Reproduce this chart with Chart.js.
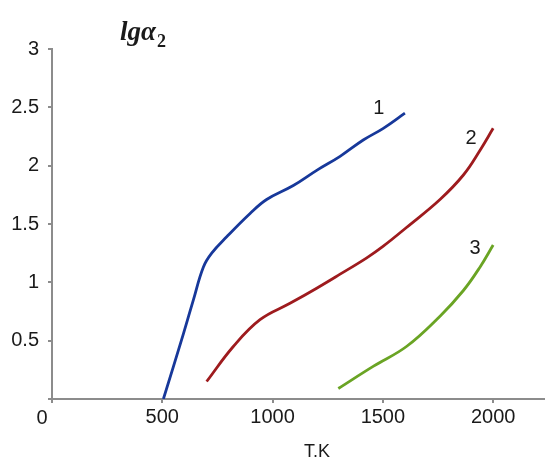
<!DOCTYPE html>
<html>
<head>
<meta charset="utf-8">
<script src="https://cdn.jsdelivr.net/npm/chart.js@4.4.1/dist/chart.umd.min.js"></script>
<style>
  html, body { margin: 0; padding: 0; background: #fff; }
  canvas { display: block; }
</style>
</head>
<body>
<canvas id="chart" width="545" height="459"></canvas>
<script>
// ================= DATA =================
const xTicks = [0, 500, 1000, 1500, 2000];
const yTicks = [0, 0.5, 1, 1.5, 2, 2.5, 3];

// curve 1 (blue)
const t1 = [505, 596, 641, 686, 724, 792, 898, 973, 1094, 1200, 1306, 1411, 1502, 1600];
const lg1 = [0.0, 0.56, 0.85, 1.13, 1.25, 1.39, 1.59, 1.71, 1.83, 1.96, 2.08, 2.22, 2.32, 2.45];

// curve 2 (red)
const t2 = [701, 822, 943, 1079, 1200, 1306, 1427, 1502, 1607, 1759, 1865, 1940, 2000];
const lg2 = [0.15, 0.45, 0.68, 0.82, 0.95, 1.07, 1.21, 1.31, 1.47, 1.71, 1.92, 2.13, 2.32];

// curve 3 (green)
const t3 = [1298, 1456, 1607, 1759, 1865, 1940, 2000];
const lg3 = [0.09, 0.28, 0.45, 0.71, 0.93, 1.13, 1.32];

const curveNames = ["1", "2", "3"];
const curveLabelT = [1482, 1900, 1918];
const curveLabelY = [2.49, 2.23, 1.29];

const axisColor = "#8c8c8c";
const textColor = "#1a1a1a";
const tickFont = { family: "'Liberation Sans', Arial, sans-serif", size: 20 };

function pts(xs, ys) {
  return xs.map((x, i) => ({ x: x, y: ys[i] }));
}

// ================= EXTRA TEXT =================
const textPlugin = {
  id: "extraText",
  afterDraw(chart) {
    const c = chart.ctx;
    const xs = chart.scales.x, ys = chart.scales.y;
    c.save();
    c.fillStyle = textColor;

    // axis title
    c.font = "bold italic 27px 'Liberation Serif', serif";
    c.textAlign = "left";
    c.textBaseline = "alphabetic";
    c.fillText("lgα", 120, 40);
    const w = c.measureText("lgα").width;
    c.font = "bold 18px 'Liberation Serif', serif";
    c.fillText("2", 120 + w + 1, 47);

    // origin label
    c.font = "20px 'Liberation Sans', Arial, sans-serif";
    c.textAlign = "center";
    c.textBaseline = "top";
    c.fillText("0", 42, 408);

    // x axis title
    c.font = "18px 'Liberation Sans', Arial, sans-serif";
    c.textBaseline = "alphabetic";
    c.fillText("T.K", 317, 457);

    // curve numbers
    c.font = "20px 'Liberation Sans', Arial, sans-serif";
    c.textBaseline = "middle";
    curveNames.forEach((n, i) => {
      c.fillText(n, xs.getPixelForValue(curveLabelT[i]), ys.getPixelForValue(curveLabelY[i]));
    });
    c.restore();
  }
};

// ================= CHART =================
const lineStyle = { borderWidth: 2.8, pointRadius: 0, fill: false, tension: 0.4 };

new Chart(document.getElementById("chart"), {
  type: "line",
  data: {
    datasets: [
      Object.assign({ data: pts(t1, lg1), borderColor: "#17389a" }, lineStyle),
      Object.assign({ data: pts(t2, lg2), borderColor: "#9e1b1e" }, lineStyle),
      Object.assign({ data: pts(t3, lg3), borderColor: "#6aa424" }, lineStyle)
    ]
  },
  options: {
    responsive: false,
    animation: false,
    layout: { padding: { top: 49, left: 0, right: 0, bottom: 0 } },
    plugins: { legend: { display: false }, tooltip: { enabled: false } },
    scales: {
      x: {
        type: "linear",
        min: 0,
        max: 2235,
        afterBuildTicks: s => { s.ticks = xTicks.map(v => ({ value: v })); },
        afterFit: s => { s.height = 60; },
        grid: { drawOnChartArea: false, drawTicks: true, tickLength: 4, color: axisColor, lineWidth: 2 },
        border: { display: true, color: axisColor, width: 2 },
        ticks: {
          font: tickFont,
          color: textColor,
          padding: 2,
          maxRotation: 0,
          callback: v => (v === 0 ? "" : String(v))
        }
      },
      y: {
        min: 0,
        max: 3,
        afterBuildTicks: s => { s.ticks = yTicks.map(v => ({ value: v })); },
        afterFit: s => { s.width = 52; },
        grid: { drawOnChartArea: false, drawTicks: true, tickLength: 4, color: axisColor, lineWidth: 2 },
        border: { display: true, color: axisColor, width: 2 },
        ticks: {
          font: tickFont,
          color: textColor,
          padding: 9,
          callback: v => (v === 0 ? "" : String(v))
        }
      }
    }
  },
  plugins: [textPlugin]
});
</script>
</body>
</html>
